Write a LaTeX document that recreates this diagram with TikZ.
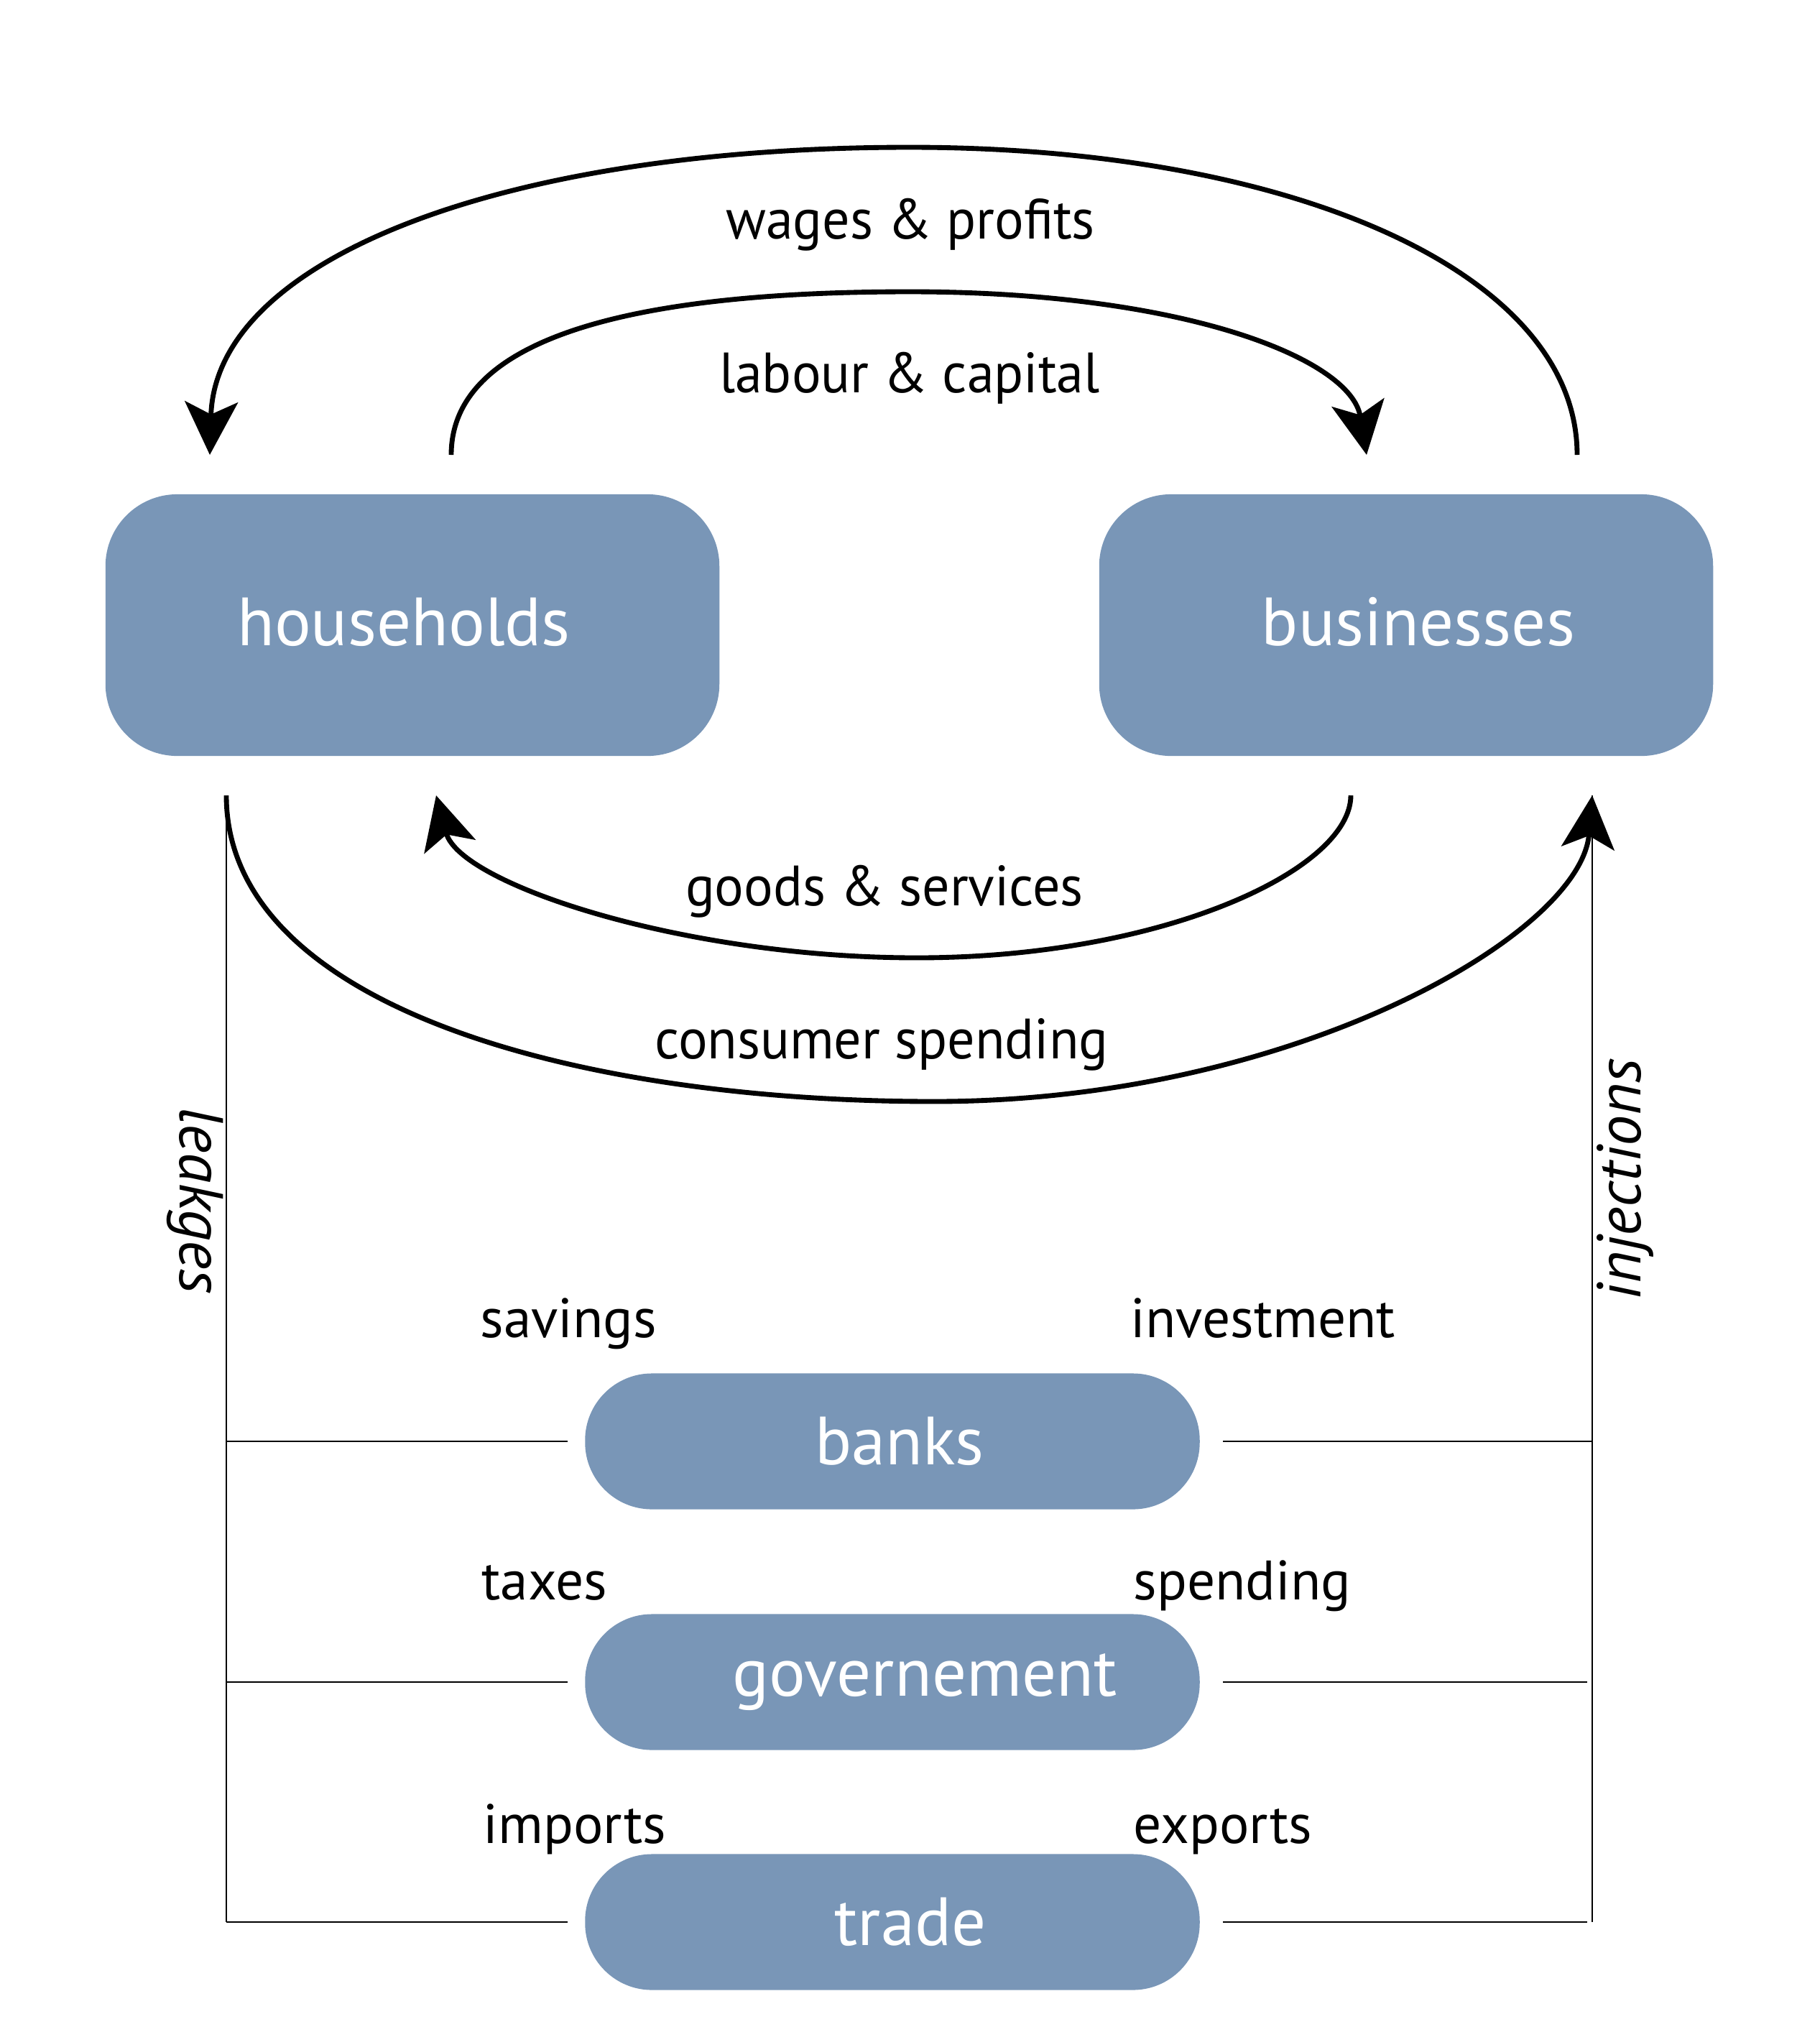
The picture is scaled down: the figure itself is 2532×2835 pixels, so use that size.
\documentclass[tikz,border=0pt]{standalone}
\usepackage{fontspec}
\setmainfont{PT Sans}
\newfontfamily\arcfont[FakeStretch=0.96]{PT Sans}
\usetikzlibrary{arrows.meta}
\definecolor{boxblue}{RGB}{121,150,183}
\begin{document}
\begin{tikzpicture}[x=0.01cm,y=-0.01cm,
  box/.style={fill=boxblue, draw=none, text=white, inner sep=0pt, font=\fontsize{27}{27}\selectfont},
  bigbox/.style={box, minimum width=8.54cm, minimum height=3.64cm, rounded corners=1cm},
  smallbox/.style={box, minimum width=8.55cm, minimum height=1.89cm, rounded corners=0.93cm},
  flow/.style={line width=1.95pt, -{Stealth[length=21pt,width=21pt,inset=5pt]}},
  thin/.style={line width=0.6pt},
  arclab/.style={font=\arcfont\fontsize{22.5}{22.5}\selectfont, anchor=base, inner sep=0pt},
  sidelab/.style={font=\fontsize{22}{22}\selectfont, anchor=base west, inner sep=0pt},
  vertlab/.style={font=\itshape\fontsize{24.5}{24.5}\selectfont, inner sep=0pt}
]
\useasboundingbox (0,0) rectangle (2532,2835);

% main boxes
\node[bigbox] (hh) at (574,870) {\raisebox{0.1cm}{households}\hspace*{0.24cm}};
\node[bigbox] (bus) at (1957,870) {\hspace*{0.34cm}\raisebox{0.1cm}{businesses}};
\node[smallbox] (banks) at (1242,2006) {\hspace*{0.2cm}banks};
\node[smallbox] (gov) at (1242,2341) {\hspace*{0.9cm}governement};
\node[smallbox] (trade) at (1242,2675) {\hspace*{0.5cm}trade};

% arc end points
\coordinate (wagesS) at (2195,633);
\coordinate (wagesT) at (1266,205);
\coordinate (wagesE) at (292,633);
\coordinate (labS) at (628,633);
\coordinate (labT) at (1266,406);
\coordinate (labE) at (1902,633);
\coordinate (goodsS) at (1880,1107);
\coordinate (goodsB) at (1276,1333);
\coordinate (goodsE) at (607,1107);
\coordinate (consS) at (315,1107);
\coordinate (consB) at (1300,1533);
\coordinate (consE) at (2216,1107);

% flows
\draw[flow] (wagesS) .. controls (2195,380) and (1800,205) .. (wagesT)
  .. controls (700,205) and (300,360) .. (wagesE);
\draw[flow] (labS) .. controls (628,480) and (850,406) .. (labT)
  .. controls (1650,406) and (1880,500) .. (labE);
\draw[flow] (goodsS) .. controls (1880,1210) and (1620,1333) .. (goodsB)
  .. controls (950,1333) and (640,1230) .. (goodsE);
\draw[flow] (consS) .. controls (315,1400) and (800,1533) .. (consB)
  .. controls (1800,1533) and (2200,1300) .. (consE);

% arc labels
\node[arclab] (lwages) at (1267,332) {wages \& profits};
\node[arclab] (llab) at (1266,546) {labour \& capital};
\node[arclab] (lgoods) at (1231,1260) {goods \& services};
\node[arclab] (lcons) at (1227,1473) {consumer spending};

% leakages / injections lines
\coordinate (leakB) at (315,2675);
\coordinate (injB) at (2216,2675);
\coordinate (lb) at (315,2006);
\coordinate (lg) at (315,2341);
\coordinate (rb) at (2216,2006);
\coordinate (rg) at (2209,2341);
\coordinate (rt) at (2209,2675);
\draw[thin] (consS) -- (leakB);
\draw[thin] (consE) -- (injB);
\draw[thin] (lb) -- ([xshift=-0.24cm]banks.west);
\draw[thin] (lg) -- ([xshift=-0.24cm]gov.west);
\draw[thin] (leakB) -- ([xshift=-0.24cm]trade.west);
\draw[thin] ([xshift=0.32cm]banks.east) -- (rb);
\draw[thin] ([xshift=0.32cm]gov.east) -- (rg);
\draw[thin] ([xshift=0.32cm]trade.east) -- (rt);

% side labels
\node[sidelab] (sav) at (668,1861) {savings};
\node[sidelab] (tax) at (670,2226) {taxes};
\node[sidelab] (imp) at (672,2565) {imports};
\node[sidelab] (inv) at (1573,1861) {investment};
\node[sidelab] (spe) at (1577,2226) {spending};
\node[sidelab] (exp) at (1577,2565) {exports};

% vertical labels
\node[vertlab, rotate=-90] (leak) at (272,1671) {leakges};
\node[vertlab, rotate=90] (inj) at (2262,1641) {injections};
\end{tikzpicture}
\end{document}
